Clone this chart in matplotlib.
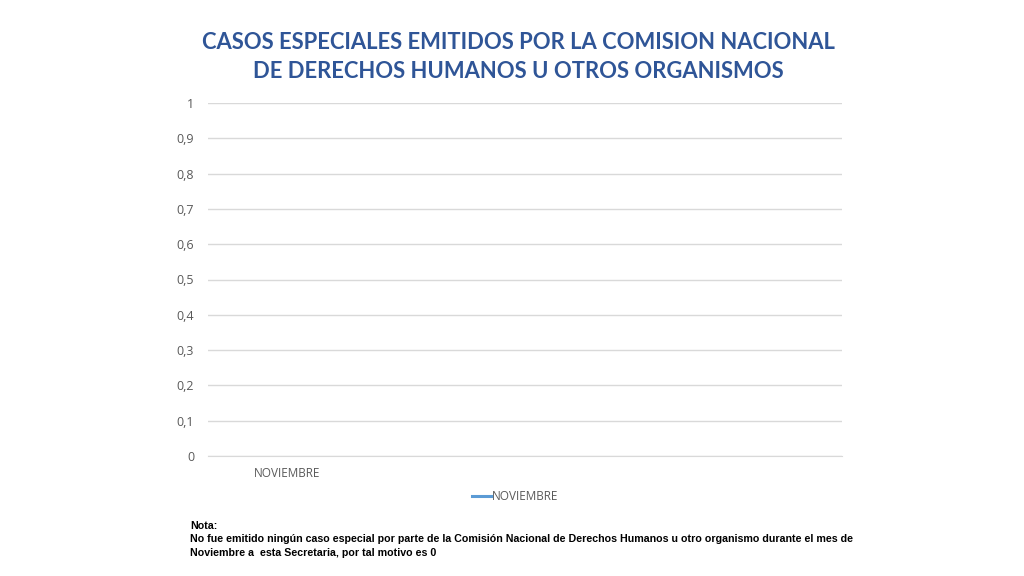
import matplotlib
matplotlib.use("Agg")
import matplotlib.pyplot as plt
import numpy as np

# chart data
categories = ["NOVIEMBRE", "", "", ""]
values = [0]
series_name = "NOVIEMBRE"
y_ticks = [0, 0.1, 0.2, 0.3, 0.4, 0.5, 0.6, 0.7, 0.8, 0.9, 1]

title = "CASOS ESPECIALES EMITIDOS POR LA COMISION NACIONAL\nDE DERECHOS HUMANOS U OTROS ORGANISMOS"
note_lines = [
    "Nota:",
    "No fue emitido ningún caso especial por parte de la Comisión Nacional de Derechos Humanos u otro organismo durante el mes de",
    "Noviembre a  esta Secretaria, por tal motivo es 0",
]

fig = plt.figure(figsize=(10.24, 5.76), dpi=100)
ax = fig.add_axes([208 / 1024, 1 - 456 / 576, 634 / 1024, 353 / 576])

x = np.arange(len(categories))
ax.plot(x[:len(values)], values, color="#5B9BD5", linewidth=2.2, label=series_name)

ax.set_xlim(-0.5, len(categories) - 0.5)
ax.set_ylim(0, 1)
ax.set_yticks(y_ticks)
ax.set_yticklabels([("%g" % t).replace(".", ",") for t in y_ticks],
                   fontsize=9, color="#595959", family="Open Sans")
ax.set_xticks(x)
ax.set_xticklabels(categories, fontsize=8.5, color="#595959", family="Open Sans")
ax.tick_params(axis="both", length=0, pad=10)
ax.tick_params(axis="x", pad=8)

ax.grid(axis="y", color="#D9D9D9", linewidth=1)
ax.set_axisbelow(True)
for s in ["top", "right", "left"]:
    ax.spines[s].set_visible(False)
ax.spines["bottom"].set_color("#D9D9D9")

fig.text(518 / 1024, 1 - 57 / 576, title, ha="center", va="center",
         fontsize=15.8, fontweight="bold", color="#2F5597", family="Lato",
         linespacing=1.5)

leg = fig.legend(loc="center", bbox_to_anchor=(515 / 1024, 1 - 497 / 576),
                 frameon=False, handlelength=1.6, handletextpad=0.1,
                 prop={"family": "Open Sans", "size": 8.5})
for t in leg.get_texts():
    t.set_color("#595959")

for i, line in enumerate(note_lines):
    fig.text(190 / 1024, 1 - (526 + i * 13.5) / 576, line, ha="left", va="center",
             fontsize=7.7, fontweight="bold", color="black", family="Liberation Sans")

fig.savefig("out.png", dpi=100, facecolor="white")
